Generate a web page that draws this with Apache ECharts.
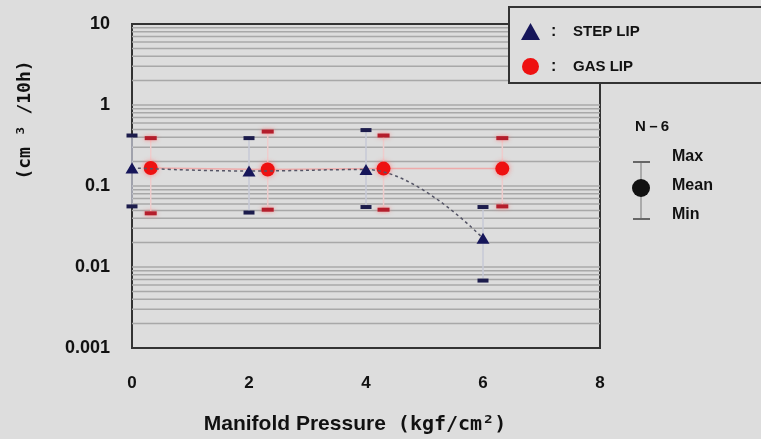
<!DOCTYPE html>
<html>
<head>
<meta charset="utf-8">
<script src="https://cdn.jsdelivr.net/npm/echarts@6/dist/echarts.min.js"></script>
<style>
html,body{margin:0;padding:0;background:#dddddd;}
#c{width:761px;height:439px;}
</style>
</head>
<body>
<div id="c"></div>
<script>
// ---- data ----
const xTicks = [0, 2, 4, 6, 8];
const yTickLabels = ['0.001', '0.01', '0.1', '1', '10'];
const seriesNames = ['STEP LIP', 'GAS LIP'];

const stepX    = [0, 2, 4, 6];
const stepMean = [0.167, 0.153, 0.160, 0.0226];
const stepMax  = [0.42, 0.39, 0.49, 0.055];
const stepMin  = [0.056, 0.047, 0.055, 0.0068];

const gasX    = [0.32, 2.32, 4.3, 6.33];
const gasMean = [0.167, 0.160, 0.164, 0.164];
const gasMax  = [0.39, 0.47, 0.42, 0.39];
const gasMin  = [0.046, 0.051, 0.051, 0.056];

// log grid lines (1..9 in each decade)
const decades = [0.001, 0.01, 0.1, 1];
const gridValues = [];
decades.forEach(d => { for (let k = 1; k <= 9; k++) { const v = +(d * k).toPrecision(3); if (v > 0.001) gridValues.push(v); } });

const BG = '#dddddd';
const chart = echarts.init(document.getElementById('c'));

function errBarSeries(name, xs, mins, maxs, lineColor, capColor, capW, glow) {
  return {
    name: name,
    type: 'custom',
    z: 3,
    silent: true,
    data: xs.map((x, i) => [x, mins[i], maxs[i]]),
    renderItem: function (params, api) {
      const x = api.value(0);
      const lo = api.coord([x, api.value(1)]);
      const hi = api.coord([x, api.value(2)]);
      const capH = 4;
      const capStyle = { fill: capColor };
      if (glow) { capStyle.shadowBlur = 4; capStyle.shadowColor = glow; }
      return {
        type: 'group',
        children: [
          { type: 'line', shape: { x1: lo[0], y1: lo[1], x2: hi[0], y2: hi[1] }, style: { stroke: lineColor, lineWidth: 1.5 } },
          { type: 'rect', shape: { x: hi[0] - capW / 2, y: hi[1] - capH / 2, width: capW, height: capH }, style: capStyle },
          { type: 'rect', shape: { x: lo[0] - capW / 2, y: lo[1] - capH / 2, width: capW, height: capH }, style: capStyle }
        ]
      };
    }
  };
}

const option = {
  backgroundColor: BG,
  animation: false,
  grid: { left: 132, right: 161, top: 24, bottom: 91, show: true, borderColor: '#333', borderWidth: 2,
    backgroundColor: 'transparent', containLabel: false, outerBoundsMode: 'none' },
  xAxis: {
    type: 'value', min: 0, max: 8, interval: 2,
    axisLine: { show: true, lineStyle: { color: '#333', width: 2 } },
    axisTick: { show: false },
    splitLine: { show: false },
    axisLabel: { margin: 27, color: '#111', fontSize: 17, fontWeight: 'bold', fontFamily: 'Liberation Sans',
      formatter: v => xTicks.indexOf(v) >= 0 ? String(v) : '' },
    name: '{a|Manifold Pressure}{b| (kgf/cm²)}',
    nameLocation: 'middle',
    nameGap: 66,
    nameTextStyle: {
      padding: [0, 22, 0, 0],
      rich: {
        a: { fontFamily: 'Liberation Sans', fontWeight: 'bold', fontSize: 21, color: '#111' },
        b: { fontFamily: 'DejaVu Sans Mono', fontWeight: 'bold', fontSize: 20, color: '#111' }
      }
    }
  },
  yAxis: {
    type: 'log', logBase: 10, min: 0.001, max: 10,
    axisLine: { show: true, lineStyle: { color: '#333', width: 2 } },
    axisTick: { show: false },
    splitLine: { show: false },
    axisLabel: { margin: 22, color: '#111', fontSize: 18, fontWeight: 'bold', fontFamily: 'Liberation Sans',
      formatter: v => { const i = Math.round(Math.log10(v)) + 3; return yTickLabels[i] || ''; } }
  },
  legend: {
    orient: 'vertical', left: 516, top: 18, itemWidth: 19, itemHeight: 17, itemGap: 18,
    selectedMode: false, z: 6,
    data: [{ name: seriesNames[0], icon: 'triangle' }, { name: seriesNames[1], icon: 'circle' }],
    formatter: name => '{c|:}{t|' + name + '}',
    textStyle: {
      rich: {
        c: { width: 22, fontSize: 16, fontWeight: 'bold', fontFamily: 'Liberation Sans', color: '#111', padding: [0, 0, 0, 6] },
        t: { fontSize: 15, fontWeight: 'bold', fontFamily: 'Liberation Sans', color: '#111' }
      }
    }
  },
  graphic: [
    { type: 'rect', z: 5, shape: { x: 509, y: 7, width: 270, height: 76 }, style: { fill: BG, stroke: '#333', lineWidth: 2 } },
    { type: 'text', z: 6, x: 25, y: 120, rotation: Math.PI / 2,
      style: { text: '(cm ³ /10h)', font: 'bold 18px "DejaVu Sans Mono"', fill: '#111', textAlign: 'center', textVerticalAlign: 'middle' } },
    { type: 'text', z: 6, x: 635, y: 127,
      style: { text: 'N－6', font: 'bold 15px "Liberation Sans"', fill: '#111', textAlign: 'left', textVerticalAlign: 'middle' } },
    { type: 'line', z: 6, shape: { x1: 641, y1: 162, x2: 641, y2: 219 }, style: { stroke: '#999', lineWidth: 1.5 } },
    { type: 'line', z: 6, shape: { x1: 633, y1: 162, x2: 650, y2: 162 }, style: { stroke: '#666', lineWidth: 2 } },
    { type: 'line', z: 6, shape: { x1: 633, y1: 219, x2: 650, y2: 219 }, style: { stroke: '#666', lineWidth: 2 } },
    { type: 'circle', z: 7, shape: { cx: 641, cy: 188, r: 9 }, style: { fill: '#111' } },
    { type: 'text', z: 6, x: 672, y: 157, style: { text: 'Max', font: 'bold 16px "Liberation Sans"', fill: '#111', textVerticalAlign: 'middle' } },
    { type: 'text', z: 6, x: 672, y: 186, style: { text: 'Mean', font: 'bold 16px "Liberation Sans"', fill: '#111', textVerticalAlign: 'middle' } },
    { type: 'text', z: 6, x: 672, y: 215, style: { text: 'Min', font: 'bold 16px "Liberation Sans"', fill: '#111', textVerticalAlign: 'middle' } }
  ],
  series: [
    {
      name: 'grid', type: 'custom', z: 1, silent: true,
      data: gridValues,
      renderItem: function (params, api) {
        const v = api.value(0);
        const a = api.coord([0, v]);
        const b = api.coord([8, v]);
        return { type: 'line', shape: { x1: a[0], y1: a[1], x2: b[0], y2: b[1] }, style: { stroke: '#a8a8a8', lineWidth: 1.5 } };
      },
      encode: { y: 0 }
    },
    errBarSeries('stepErr', stepX, stepMin, stepMax, '#c6c8d6', '#1c1c4c', 11, null),
    errBarSeries('gasErr', gasX, gasMin, gasMax, '#efcccc', '#b41e2c', 12, 'rgba(255,120,120,0.8)'),
    {
      name: seriesNames[1], type: 'line', z: 4,
      data: gasX.map((x, i) => [x, gasMean[i]]),
      symbol: 'circle', symbolSize: 14,
      itemStyle: { color: '#ee1111', shadowBlur: 5, shadowColor: 'rgba(255,120,120,0.9)' },
      lineStyle: { color: '#eeaaaa', width: 1.5 }
    },
    {
      name: seriesNames[0], type: 'line', z: 5, smooth: 0.4,
      data: stepX.map((x, i) => [x, stepMean[i]]),
      symbol: 'triangle', symbolSize: [13, 11],
      itemStyle: { color: '#16165a' },
      lineStyle: { color: '#555566', width: 1.5, type: [3, 3] }
    }
  ]
};
chart.setOption(option);
</script>
</body>
</html>
